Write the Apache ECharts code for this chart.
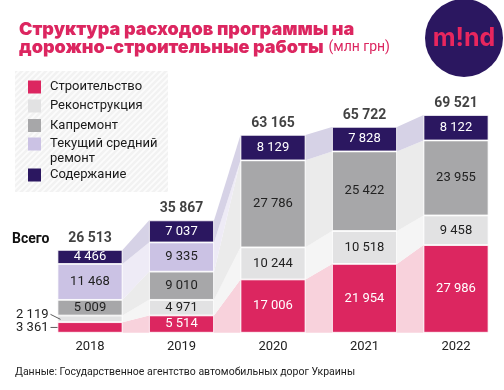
<!DOCTYPE html>
<html>
<head>
<meta charset="utf-8">
<script src="https://cdn.jsdelivr.net/npm/echarts@6/dist/echarts.min.js"></script>
<style>html,body{margin:0;padding:0;background:#fff;}#c{width:504px;height:390px;}</style>
</head>
<body>
<div id="c"></div>
<script>
const years = ['2018', '2019', '2020', '2021', '2022'];
const construction = [3361, 5514, 17006, 21954, 27986];
const reconstruction = [2119, 4971, 10244, 10518, 9458];
const capRepair = [5009, 9010, 27786, 25422, 23955];
const currentRepair = [11468, 9335, 0, 0, 0];
const maintenance = [4466, 7037, 8129, 7828, 8122];
const totals = [26513, 35867, 63165, 65722, 69521];
const seriesNames = ['Строительство', 'Реконструкция', 'Капремонт', 'Текущий средний ремонт', 'Содержание'];
const legendLabels = ['Строительство', 'Реконструкция', 'Капремонт', 'Текущий средний\nремонт', 'Содержание'];

const allSeries = [construction, reconstruction, capRepair, currentRepair, maintenance];
const colors = ['#dc2660', '#e2e2e3', '#a7a7a9', '#cbc2e4', '#2b1760'];
const bandColors = ['#f8d2dc', '#f5f5f5', '#ebebeb', '#eeebf6', '#d6d2e6'];
const labelColors = ['#fff', '#222', '#222', '#222', '#fff'];
const BAR_W = 65;
const FONT = 'Roboto, "Noto Sans", sans-serif';

function fmt(n) { return String(n).replace(/\B(?=(\d{3})+(?!\d))/g, ' '); }
function cumBelow(k, i) { let s = 0; for (let j = 0; j < k; j++) s += allSeries[j][i]; return s; }

// hatched pattern for legend background
const pat = document.createElement('canvas');
pat.width = 6; pat.height = 6;
const pc = pat.getContext('2d');
pc.fillStyle = '#f2f2f2'; pc.fillRect(0, 0, 6, 6);
pc.strokeStyle = '#fcfcfc'; pc.lineWidth = 1.6;
pc.beginPath();
pc.moveTo(-1, 7); pc.lineTo(7, -1);
pc.moveTo(-4, 4); pc.lineTo(4, -4);
pc.moveTo(2, 10); pc.lineTo(10, 2);
pc.stroke();

const chart = echarts.init(document.getElementById('c'), null, { renderer: 'canvas' });

const bandData = [];
for (let i = 0; i < years.length - 1; i++) for (let k = 0; k < allSeries.length; k++) bandData.push([i, k]);

// small 2018 segments whose labels sit outside, left of the bar: [category index, series index]
const outsideLabels = [[0, 0], [0, 1]];
const outsideOffsetY = [0, -4.5];

const barSeries = allSeries.map((arr, k) => ({
  name: seriesNames[k],
  type: 'bar',
  stack: 'total',
  barWidth: BAR_W,
  z: 3,
  itemStyle: { color: colors[k], borderColor: '#fff', borderWidth: 0.8 },
  label: {
    show: true,
    position: 'inside',
    color: labelColors[k],
    fontSize: 13,
    fontFamily: FONT,
    formatter: p => (p.value ? fmt(p.value) : '')
  },
  data: arr.map((v, i) => {
    const o = outsideLabels.findIndex(d => d[0] === i && d[1] === k);
    if (o >= 0) {
      return { value: v, label: { position: 'left', distance: 9, color: '#222', offset: [0, outsideOffsetY[o]] } };
    }
    return v;
  })
}));

const legendGraphics = [];
const rowY = [87, 106, 125.5, 144, 175];
legendLabels.forEach((t, k) => {
  legendGraphics.push({ type: 'rect', shape: { x: 28, y: rowY[k] - 6.5, width: 13, height: 13 }, style: { fill: colors[k] } });
  legendGraphics.push({ type: 'text', x: 50, y: rowY[k] - 7.5, style: { text: t, fill: '#1a1a1a', font: '13px ' + FONT, lineHeight: 15, textVerticalAlign: 'top' } });
});

chart.setOption({
  animation: false,
  backgroundColor: '#fff',
  grid: { left: 44.25, right: 2.25, top: 113.5, bottom: 57.3 },
  xAxis: {
    type: 'category',
    data: years,
    axisLine: { show: false },
    axisTick: { show: false },
    axisLabel: { color: '#222', fontSize: 13, fontFamily: FONT, margin: 8 }
  },
  yAxis: { type: 'value', min: 0, max: 70000, show: false, splitLine: { show: false } },
  title: {
    left: 14, top: 16,
    text: '{a|Структура расходов программы на}\n{a|дорожно-строительные работы} {b|(млн грн)}',
    textStyle: {
      rich: {
        a: { fontFamily: 'Inter, Roboto, sans-serif', fontWeight: 900, fontSize: 18, color: '#dc2660', lineHeight: 17.5 },
        b: { fontFamily: FONT, fontWeight: 'normal', fontSize: 14, color: '#dc2660', lineHeight: 17.5 }
      }
    }
  },
  graphic: [
    { type: 'rect', z: 0, shape: { x: 15, y: 71, width: 153, height: 121 }, style: { fill: { image: pat, repeat: 'repeat' } } },
    ...legendGraphics,
    { type: 'circle', shape: { cx: 464, cy: 38, r: 39 }, style: { fill: '#2b1760' } },
    { type: 'text', x: 464, y: 38, style: { text: 'm!nd', fill: '#e8265e', font: 'bold 25px Inter, Roboto, sans-serif', textAlign: 'center', textVerticalAlign: 'middle' } },
    { type: 'text', x: 12, y: 239, style: { text: 'Всего', fill: '#111', font: 'bold 14px ' + FONT, textVerticalAlign: 'middle' } },
    { type: 'text', x: 15, y: 372, style: { text: 'Данные: Государственное агентство автомобильных дорог Украины', fill: '#222', font: '10.5px ' + FONT, textVerticalAlign: 'middle' } }
  ],
  series: [
    {
      type: 'custom',
      name: 'bands',
      z: 1,
      silent: true,
      data: bandData,
      encode: { x: 0 },
      renderItem: (params, api) => {
        const i = api.value(0), k = api.value(1);
        const arr = allSeries[k];
        const b0 = cumBelow(k, i), t0 = b0 + arr[i];
        const b1 = cumBelow(k, i + 1), t1 = b1 + arr[i + 1];
        const hw = BAR_W / 2;
        const p0b = api.coord([i, b0]), p0t = api.coord([i, t0]);
        const p1b = api.coord([i + 1, b1]), p1t = api.coord([i + 1, t1]);
        return {
          type: 'polygon',
          shape: { points: [[p0b[0] + hw, p0b[1]], [p0t[0] + hw, p0t[1]], [p1t[0] - hw, p1t[1]], [p1b[0] - hw, p1b[1]]] },
          style: { fill: bandColors[k] }
        };
      }
    },
    {
      type: 'custom',
      name: 'leaders',
      z: 5,
      silent: true,
      data: outsideLabels,
      encode: { x: 0 },
      renderItem: (params, api) => {
        const i = api.value(0), k = api.value(1);
        const idx = params.dataIndex;
        const b = cumBelow(k, i), t = b + allSeries[k][i];
        const mid = api.coord([i, (b + t) / 2]);
        const left = mid[0] - BAR_W / 2;
        const dy = outsideOffsetY[idx];
        return {
          type: 'line',
          shape: { x1: left - 7, y1: mid[1] + dy, x2: left + (dy ? 3 : 0), y2: mid[1] + (dy ? 0.5 : 0) },
          style: { stroke: '#333', lineWidth: 0.8 }
        };
      }
    },
    ...barSeries,
    {
      type: 'scatter',
      name: 'Всего',
      symbolSize: 1,
      itemStyle: { color: 'rgba(0,0,0,0)' },
      z: 4,
      data: totals,
      label: { show: true, position: 'top', distance: 4, color: '#111', fontSize: 14, fontWeight: 'bold', fontFamily: FONT, formatter: p => fmt(p.value) }
    }
  ]
});
</script>
</body>
</html>
